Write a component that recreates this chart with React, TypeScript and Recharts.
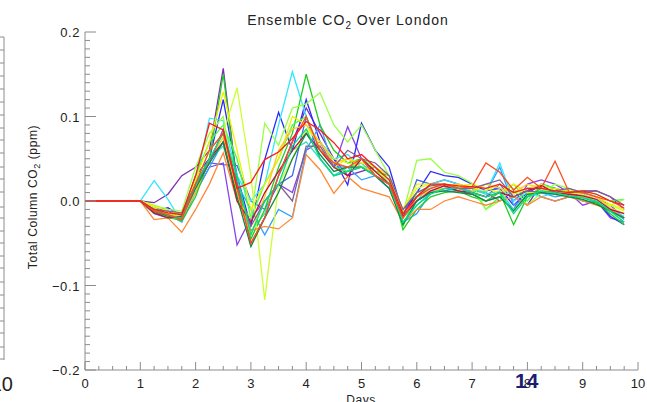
import React from "react"
import { LineChart, Line, XAxis, YAxis } from "recharts"

// days, 6-hourly steps
const days = [
  0, 0.25, 0.5, 0.75, 1, 1.25, 1.5, 1.75, 2, 2.25, 2.5, 2.75, 3, 3.25, 3.5, 3.75, 4, 4.25, 4.5, 4.75,
  5, 5.25, 5.5, 5.75, 6, 6.25, 6.5, 6.75, 7, 7.25, 7.5, 7.75, 8, 8.25, 8.5, 8.75, 9, 9.25, 9.5, 9.75,
]

// ensemble members, total column CO2 anomaly (ppm)
const m01 = [0, 0, 0, 0, 0, -0.002, 0.008, 0.03, 0.04, 0.06, 0.157, 0.02, -0.05, -0.02, 0.03, 0.07, 0.11, 0.08, 0.05, 0.03, 0.035, 0.04, 0.02, -0.01, 0.005, 0.02, 0.025, 0.02, 0.015, 0.01, 0.0, 0.012, -0.005, 0.02, 0.015, 0.01, 0.012, 0.012, 0.005, -0.01]
const m02 = [0, 0, 0, 0, 0, -0.008, -0.012, -0.02, 0.01, 0.04, 0.045, -0.052, -0.02, 0.0, 0.02, 0.01, 0.06, 0.07, 0.04, 0.088, 0.05, 0.03, 0.02, -0.02, 0.0, 0.01, 0.015, 0.012, 0.008, 0.0, 0.005, -0.01, 0.02, 0.025, 0.02, 0.01, -0.005, 0.0, -0.02, -0.025]
const m03 = [0, 0, 0, 0, 0, -0.012, -0.008, -0.018, 0.03, 0.05, 0.12, 0.03, -0.03, 0.049, 0.105, 0.06, 0.12, 0.07, 0.05, 0.019, 0.092, 0.06, 0.04, -0.015, 0.01, 0.035, 0.03, 0.028, 0.02, 0.012, 0.015, -0.005, 0.01, 0.018, 0.015, 0.01, 0.008, 0.0, -0.018, -0.028]
const m04 = [0, 0, 0, 0, 0, -0.015, -0.02, -0.022, 0.02, 0.045, 0.043, 0.042, 0.0, -0.01, 0.02, 0.03, 0.1, 0.05, 0.03, 0.035, 0.04, 0.03, 0.015, -0.02, 0.025, 0.02, 0.018, 0.015, 0.01, 0.005, 0.02, 0.0, 0.015, 0.005, 0.0, 0.005, 0.01, 0.005, -0.005, -0.02]
const m05 = [0, 0, 0, 0, 0, -0.01, -0.015, -0.025, 0.01, 0.04, 0.07, 0.02, -0.01, -0.04, -0.01, -0.019, 0.06, 0.09, 0.04, 0.04, 0.025, 0.03, 0.015, -0.025, -0.015, 0.01, 0.012, 0.015, 0.012, 0.01, 0.04, -0.005, 0.005, 0.01, 0.005, 0.008, 0.004, -0.002, -0.01, -0.022]
const m06 = [0, 0, 0, 0, 0, 0.024, 0.002, -0.025, 0.02, 0.098, 0.095, 0.03, 0.0, 0.02, 0.09, 0.153, 0.1, 0.06, 0.05, 0.055, 0.04, 0.04, 0.025, -0.02, 0.0, 0.02, 0.025, 0.02, 0.015, 0.01, 0.045, 0.0, 0.01, 0.005, 0.01, 0.015, 0.01, 0.005, -0.01, -0.018]
const m07 = [0, 0, 0, 0, 0, -0.012, -0.016, -0.02, 0.015, 0.05, 0.065, 0.01, -0.035, -0.015, 0.03, 0.06, 0.07, 0.05, 0.03, 0.04, 0.045, 0.03, 0.02, -0.025, -0.005, 0.01, 0.015, 0.018, 0.015, 0.008, 0.012, -0.01, 0.008, 0.012, 0.01, 0.006, 0.005, 0.0, -0.012, -0.02]
const m08 = [0, 0, 0, 0, 0, -0.014, -0.018, -0.024, 0.005, 0.05, 0.15, 0.02, -0.045, -0.01, 0.04, 0.08, 0.15, 0.09, 0.06, 0.045, 0.05, 0.035, 0.03, -0.034, -0.01, 0.005, 0.01, 0.012, 0.005, 0.0, 0.01, -0.028, 0.005, 0.015, 0.012, 0.01, 0.0, -0.002, -0.015, -0.028]
const m09 = [0, 0, 0, 0, 0, -0.01, -0.02, -0.02, 0.03, 0.07, 0.09, 0.05, -0.02, 0.02, 0.05, 0.09, 0.1, 0.06, 0.04, 0.035, 0.05, 0.04, 0.02, -0.03, 0.01, 0.015, 0.02, 0.015, 0.015, -0.01, 0.005, 0.02, 0.0, 0.02, 0.015, 0.01, 0.012, 0.008, 0.0, 0.002]
const m10 = [0, 0, 0, 0, 0, -0.005, -0.01, -0.012, 0.04, 0.08, 0.1, 0.0, -0.02, 0.092, 0.066, 0.11, 0.115, 0.128, 0.09, 0.07, 0.09, 0.06, 0.03, -0.015, 0.048, 0.05, 0.034, 0.03, 0.021, -0.01, 0.0, 0.015, -0.005, 0.01, 0.02, 0.015, 0.005, 0.0, -0.005, 0.002]
const m11 = [0, 0, 0, 0, 0, -0.008, -0.015, -0.018, 0.02, 0.06, 0.08, 0.134, 0.03, -0.117, 0.02, 0.05, 0.085, 0.07, 0.05, 0.045, 0.04, 0.035, 0.025, -0.01, 0.015, 0.02, 0.018, 0.02, 0.015, 0.012, 0.02, 0.008, 0.015, 0.02, 0.012, 0.01, 0.008, 0.0, -0.005, -0.012]
const m12 = [0, 0, 0, 0, 0, -0.006, -0.012, -0.015, 0.025, 0.07, 0.129, 0.06, -0.01, 0.02, 0.05, 0.1, 0.09, 0.065, 0.04, 0.05, 0.045, 0.04, 0.03, -0.01, 0.02, 0.02, 0.02, 0.018, 0.02, 0.015, 0.01, 0.02, 0.01, 0.01, 0.015, 0.012, 0.01, 0.005, -0.004, -0.01]
const m13 = [0, 0, 0, 0, 0, -0.012, -0.014, -0.02, 0.01, 0.05, 0.075, 0.01, -0.04, 0.005, 0.06, 0.085, 0.09, 0.07, 0.045, 0.05, 0.04, 0.035, 0.02, -0.02, 0.005, 0.012, 0.015, 0.02, 0.012, 0.02, 0.015, 0.01, 0.02, 0.015, 0.01, 0.008, 0.005, 0.005, -0.008, -0.015]
const m14 = [0, 0, 0, 0, 0, -0.022, -0.02, -0.037, -0.01, 0.02, 0.057, 0.0, -0.035, -0.03, -0.033, -0.02, 0.055, 0.037, 0.009, 0.029, 0.015, 0.01, 0.005, -0.025, -0.01, -0.01, 0.0, 0.005, 0.0, -0.005, 0.0, 0.005, -0.005, 0.005, 0.0, 0.005, 0.0, -0.005, -0.01, -0.02]
const m15 = [0, 0, 0, 0, 0, -0.012, -0.016, -0.022, 0.02, 0.06, 0.08, 0.015, -0.05, -0.02, 0.03, 0.07, 0.1, 0.06, 0.045, 0.04, 0.05, 0.03, 0.02, -0.02, 0.005, 0.015, 0.02, 0.015, 0.017, 0.045, 0.034, 0.013, 0.028, 0.015, 0.047, 0.011, 0.01, 0.005, 0.0, -0.008]
const m16 = [0, 0, 0, 0, 0, -0.01, -0.014, -0.016, 0.03, 0.092, 0.084, 0.015, 0.022, 0.049, 0.058, 0.074, 0.094, 0.084, 0.069, 0.05, 0.055, 0.04, 0.025, -0.015, 0.005, 0.02, 0.02, 0.018, 0.017, 0.015, 0.02, 0.01, 0.015, 0.015, 0.012, 0.01, 0.012, 0.008, 0.0, -0.005]
const m17 = [0, 0, 0, 0, 0, -0.014, -0.02, -0.018, 0.02, 0.05, 0.07, 0.0, -0.025, 0.01, 0.035, 0.06, 0.08, 0.06, 0.04, 0.03, 0.05, 0.035, 0.02, -0.018, 0.0, 0.012, 0.018, 0.012, 0.01, 0.005, 0.01, 0.005, 0.012, 0.018, 0.01, 0.008, 0.006, 0.002, -0.01, -0.015]
const m18 = [0, 0, 0, 0, 0, -0.01, -0.012, -0.014, 0.02, 0.045, 0.085, 0.02, -0.03, 0.0, 0.02, 0.0, 0.065, 0.065, 0.04, 0.06, 0.05, 0.045, 0.03, -0.01, 0.01, 0.018, 0.02, 0.015, 0.015, 0.02, 0.025, 0.005, 0.012, 0.01, 0.012, 0.015, 0.01, 0.012, 0.005, -0.005]
const m19 = [0, 0, 0, 0, 0, -0.012, -0.018, -0.02, 0.015, 0.045, 0.07, 0.005, -0.054, -0.02, 0.01, 0.05, 0.08, 0.055, 0.035, 0.04, 0.04, 0.03, 0.015, -0.028, 0.0, 0.01, 0.012, 0.01, 0.008, 0.0, 0.005, -0.012, 0.008, 0.01, 0.008, 0.005, 0.002, -0.004, -0.012, -0.02]
const m20 = [0, 0, 0, 0, 0, -0.01, -0.017, -0.02, 0.02, 0.05, 0.08, 0.03, -0.04, 0.0, 0.02, 0.065, 0.085, 0.05, 0.03, 0.035, 0.04, 0.03, 0.02, -0.025, -0.005, 0.008, 0.015, 0.015, 0.01, 0.005, 0.01, -0.015, 0.005, 0.012, 0.01, 0.006, 0.004, 0.0, -0.012, -0.025]

const members = [
  { key: "m01", values: m01, color: "#7a2fb0" },
  { key: "m02", values: m02, color: "#8844e8" },
  { key: "m03", values: m03, color: "#2a2aff" },
  { key: "m04", values: m04, color: "#4466f0" },
  { key: "m05", values: m05, color: "#33a0ff" },
  { key: "m06", values: m06, color: "#33e6ff" },
  { key: "m07", values: m07, color: "#33e0b8" },
  { key: "m08", values: m08, color: "#22cc22" },
  { key: "m09", values: m09, color: "#44ff44" },
  { key: "m10", values: m10, color: "#99ff44" },
  { key: "m11", values: m11, color: "#ccff33" },
  { key: "m12", values: m12, color: "#f2f000" },
  { key: "m13", values: m13, color: "#ffc822" },
  { key: "m14", values: m14, color: "#ff8833" },
  { key: "m17", values: m17, color: "#c01040" },
  { key: "m18", values: m18, color: "#806090" },
  { key: "m19", values: m19, color: "#118844" },
  { key: "m20", values: m20, color: "#00e080" },
  { key: "m15", values: m15, color: "#ff4a22" },
  { key: "m16", values: m16, color: "#ff1a1a" },
]

const xMajorTicks = [0, 1, 2, 3, 4, 5, 6, 7, 8, 9, 10]
const yMajorTicks = [-0.2, -0.1, 0, 0.1, 0.2]
const yMajorLabels = ["\u22120.2", "\u22120.1", "0.0", "0.1", "0.2"]

const xTicks = Array.from({ length: 41 }, (_, i) => i * 0.25)
const yTicks = Array.from({ length: 41 }, (_, i) => +(-0.2 + i * 0.01).toFixed(2))

const data = days.map((d, i) => {
  const row: Record<string, number> = { day: d }
  members.forEach((m) => (row[m.key] = m.values[i]))
  return row
})

const axisGray = "#8c8c8c"
const textColor = "#222"
const font = "'Liberation Sans', Arial, sans-serif"

function XTick({ x, y, payload }: any) {
  const v = payload.value
  const major = xMajorTicks.some((t) => Math.abs(t - v) < 1e-6)
  return (
    <g>
      <line x1={x} x2={x} y1={y} y2={y - (major ? 8 : 4)} stroke={axisGray} />
      {major && (
        <text x={x} y={y + 18} textAnchor="middle" fontSize={13} fontFamily={font} fill={textColor}>
          {v}
        </text>
      )}
    </g>
  )
}

function YTick({ x, y, payload }: any) {
  const v = payload.value
  const idx = yMajorTicks.findIndex((t) => Math.abs(t - v) < 1e-6)
  const major = idx >= 0
  return (
    <g>
      <line x1={x} x2={x + (major ? 11 : 5)} y1={y} y2={y} stroke={axisGray} />
      {major && (
        <text x={x - 5} y={y + 5} textAnchor="end" fontSize={13} fontFamily={font} fill={textColor} letterSpacing={0.6}>
          {yMajorLabels[idx]}
        </text>
      )}
    </g>
  )
}

// stray bits from the neighbouring panels
const leftTickYs = [37, 50, 63, 76, 89, 102, 115, 128, 140, 153, 167, 179, 192, 207, 218, 231, 243, 256, 268, 282, 295, 308, 321, 333, 347, 359]

export default function App() {
  return (
    <div style={{ position: "absolute", left: 0, top: 0, width: 647, height: 402, background: "#fff", overflow: "hidden" }}>
      <LineChart width={647} height={402} data={data} margin={{ top: 32, right: 9, bottom: 0, left: 0 }}>
        <XAxis
          dataKey="day"
          type="number"
          domain={[0, 10]}
          ticks={xTicks}
          interval={0}
          tickSize={0}
          tickMargin={0}
          tickLine={false}
          height={32}
          axisLine={{ stroke: axisGray }}
          tick={<XTick />}
        />
        <YAxis
          type="number"
          domain={[-0.2, 0.2]}
          ticks={yTicks}
          interval={0}
          tickSize={0}
          tickMargin={0}
          tickLine={false}
          width={85}
          axisLine={{ stroke: axisGray }}
          tick={<YTick />}
          allowDataOverflow
        />
        {members.map((m) => (
          <Line
            key={m.key}
            dataKey={m.key}
            type="linear"
            stroke={m.color}
            strokeWidth={1.3}
            dot={false}
            activeDot={false}
            isAnimationActive={false}
          />
        ))}
      </LineChart>
      <svg width={647} height={402} style={{ position: "absolute", left: 0, top: 0, pointerEvents: "none" }}>
        <text x={348} y={25} textAnchor="middle" fontSize={14} fontFamily={font} fill={textColor} letterSpacing={1}>
          Ensemble CO<tspan fontSize={10} dy={4}>2</tspan>
          <tspan dy={-4}> Over London</tspan>
        </text>
        <text
          transform="translate(37,197) rotate(-90)"
          textAnchor="middle"
          fontSize={12}
          fontFamily={font}
          fill={textColor}
          letterSpacing={0.6}
        >
          Total Column CO<tspan fontSize={9} dy={3}>2</tspan>
          <tspan dy={-3}> (ppm)</tspan>
        </text>
        <text x={361} y={404} textAnchor="middle" fontSize={12} fontFamily={font} fill={textColor} letterSpacing={0.6}>
          Days
        </text>
        <line x1={4} x2={4} y1={37} y2={360} stroke={axisGray} />
        {leftTickYs.map((ty) => (
          <line key={ty} x1={0} x2={4} y1={ty} y2={ty} stroke={axisGray} />
        ))}
        <text x={13} y={391} textAnchor="end" fontSize={20} fontFamily={font} fill={textColor}>
          10
        </text>
        <text x={515} y={388} fontSize={21} fontWeight="bold" fontFamily={font} fill="#1c1c70">
          14
        </text>
      </svg>
    </div>
  )
}
